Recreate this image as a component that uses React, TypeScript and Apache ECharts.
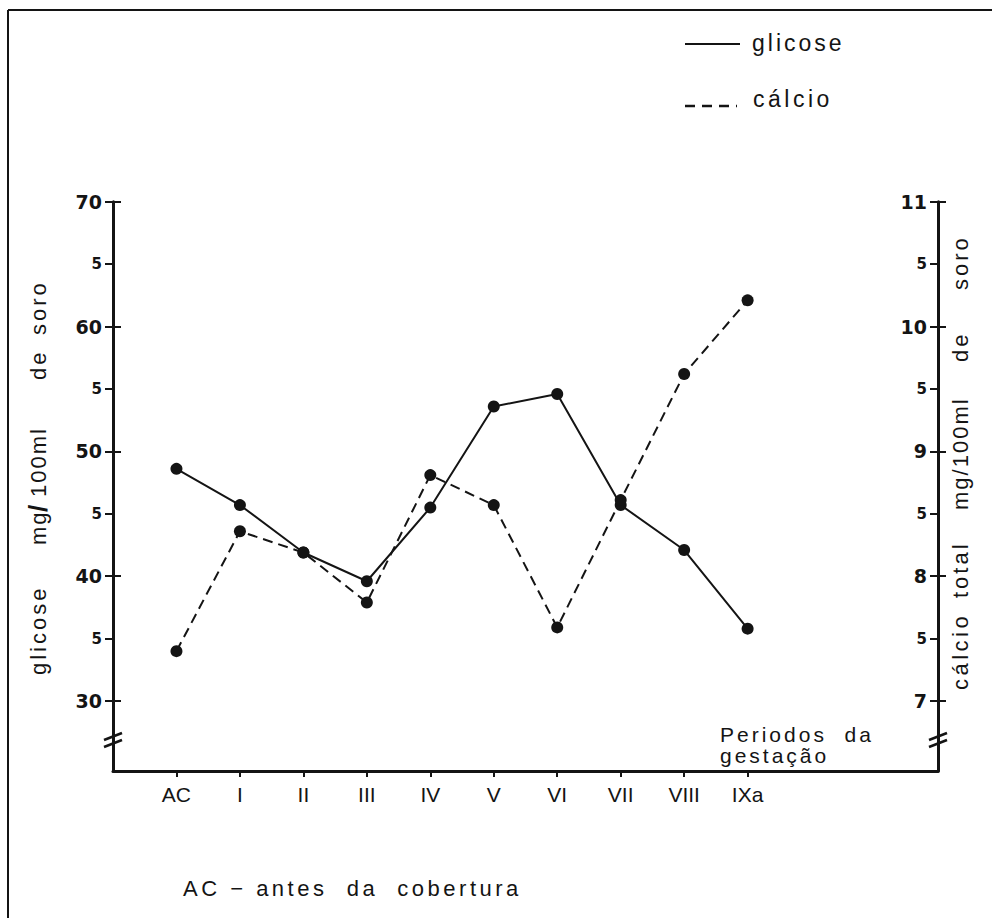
import React, { useEffect, useRef } from 'react';
import * as echarts from 'echarts';

// ---- data ----
const periods = ['AC', 'I', 'II', 'III', 'IV', 'V', 'VI', 'VII', 'VIII', 'IXa'];
const glicose = [48.6, 45.7, 41.9, 39.6, 45.5, 53.6, 54.6, 45.7, 42.1, 35.8];
const calcio = [7.4, 8.36, 8.19, 7.79, 8.81, 8.57, 7.59, 8.61, 9.62, 10.21];
const periodPositions = [0, 1, 2, 3, 4, 5, 6, 7, 8, 9];
const glicoseTicks = [30, 35, 40, 45, 50, 55, 60, 65, 70];
const glicoseMajor = [30, 40, 50, 60, 70];
const calcioTicks = [7, 7.5, 8, 8.5, 9, 9.5, 10, 10.5, 11];
const calcioMajor = [7, 8, 9, 10, 11];

const ink = '#141414';
const FONT = '"Liberation Sans", Arial, sans-serif';
const NARROW = '"Liberation Sans Narrow", "Liberation Sans", Arial, sans-serif';
const NUM = '"DejaVu Sans", "Liberation Sans", sans-serif';

const txt = (x: number, y: number, text: string, extra: any = {}) => ({
  type: 'text',
  x,
  y,
  style: {
    text,
    fill: ink,
    fontFamily: FONT,
    fontSize: 22,
    align: 'left',
    verticalAlign: 'middle',
    ...extra,
  },
});

const breakMark = (x: number, y: number) => [
  { type: 'line', shape: { x1: x - 9, y1: y + 4, x2: x + 9, y2: y - 3 }, style: { stroke: ink, lineWidth: 2.5 } },
  { type: 'line', shape: { x1: x - 9, y1: y + 11, x2: x + 9, y2: y + 4 }, style: { stroke: ink, lineWidth: 2.5 } },
];

const spacing: Record<string, number> = {
  glicose: 3,
  'cálcio': 3.5,
  'Periodos\u00a0\u00a0da': 3,
  'gestação': 3,
  'AC\u00a0\u2212\u00a0antes\u00a0\u00a0da\u00a0\u00a0cobertura': 3.5,
  mg: 2,
  '100ml': 2,
  'mg/100ml': 2,
  de: 3,
  soro: 3,
  total: 3,
};

export default function App() {
  const ref = useRef<HTMLDivElement>(null);

  useEffect(() => {
    const el = ref.current!;
    const chart = echarts.init(el, null, { renderer: 'svg' });

    const numRich = {
      big: { fontSize: 19, fontWeight: 'bold', fontFamily: NUM, color: ink },
      small: { fontSize: 15, fontWeight: 'bold', fontFamily: NUM, color: ink },
    };

    const option: any = {
      animation: false,
      backgroundColor: '#ffffff',
      grid: { left: 113, right: 54, top: 201.7, bottom: 147, containLabel: false },
      xAxis: {
        type: 'value',
        min: -1,
        max: 12,
        axisLine: { show: true, onZero: false, lineStyle: { color: ink, width: 3 } },
        axisTick: { show: true, customValues: periodPositions, length: 6, lineStyle: { color: ink, width: 2 } },
        axisLabel: {
          customValues: periodPositions,
          formatter: (v: number) => periods[v] ?? '',
          color: ink,
          fontFamily: NARROW,
          fontSize: 21,
          margin: 13,
        },
        splitLine: { show: false },
      },
      yAxis: [
        {
          type: 'value',
          min: 24.4,
          max: 70,
          position: 'left',
          axisLine: { show: true, onZero: false, lineStyle: { color: ink, width: 3 } },
          axisTick: { show: true, customValues: glicoseTicks, length: 8, lineStyle: { color: ink, width: 2 } },
          axisLabel: {
            customValues: glicoseTicks,
            margin: 11,
            formatter: (v: number) => (v % 10 === 0 ? `{big|${v}}` : '{small|5}'),
            rich: numRich,
          },
          splitLine: { show: false },
        },
        {
          type: 'value',
          min: 6.44,
          max: 11,
          position: 'right',
          axisLine: { show: true, onZero: false, lineStyle: { color: ink, width: 3 } },
          axisTick: { show: true, inside: true, customValues: calcioTicks, length: 8, lineStyle: { color: ink, width: 2 } },
          axisLabel: {
            inside: true,
            customValues: calcioTicks,
            margin: 11,
            formatter: (v: number) => (Number.isInteger(v) ? `{big|${v}}` : '{small|5}'),
            rich: numRich,
          },
          splitLine: { show: false },
        },
        {
          type: 'value',
          min: 24.4,
          max: 70,
          position: 'left',
          axisLine: { show: false, onZero: false },
          axisTick: { show: true, inside: true, customValues: glicoseMajor, length: 8, lineStyle: { color: ink, width: 2 } },
          axisLabel: { show: false },
          splitLine: { show: false },
        },
        {
          type: 'value',
          min: 6.44,
          max: 11,
          position: 'right',
          axisLine: { show: false, onZero: false },
          axisTick: { show: true, customValues: calcioMajor, length: 8, lineStyle: { color: ink, width: 2 } },
          axisLabel: { show: false },
          splitLine: { show: false },
        },
      ],
      series: [
        {
          name: 'glicose',
          type: 'line',
          yAxisIndex: 0,
          data: glicose.map((v, i) => [periodPositions[i], v]),
          symbol: 'circle',
          symbolSize: 12,
          lineStyle: { color: ink, width: 2 },
          itemStyle: { color: ink },
          z: 3,
        },
        {
          name: 'cálcio',
          type: 'line',
          yAxisIndex: 1,
          data: calcio.map((v, i) => [periodPositions[i], v]),
          symbol: 'circle',
          symbolSize: 12,
          lineStyle: { color: ink, width: 2, type: [10, 6] },
          itemStyle: { color: ink },
          z: 3,
        },
      ],
      graphic: [
        { type: 'line', shape: { x1: 8, y1: 10, x2: 992, y2: 10 }, style: { stroke: ink, lineWidth: 2 } },
        { type: 'line', shape: { x1: 8, y1: 10, x2: 8, y2: 918 }, style: { stroke: ink, lineWidth: 2 } },
        // legend
        { type: 'line', shape: { x1: 685, y1: 44, x2: 740, y2: 44 }, style: { stroke: ink, lineWidth: 2 } },
        txt(752, 43, 'glicose', { fontSize: 23 }),
        { type: 'line', shape: { x1: 685, y1: 106, x2: 737, y2: 106 }, style: { stroke: ink, lineWidth: 2.5, lineDash: [10, 7] } },
        txt(753, 99, 'cálcio', { fontSize: 23 }),
        // axis breaks
        ...breakMark(113, 736),
        ...breakMark(938, 736),
        // annotations
        txt(720, 734, 'Periodos\u00a0\u00a0da', { fontSize: 21 }),
        txt(720, 755, 'gestação', { fontSize: 21 }),
        txt(183, 888, 'AC\u00a0\u2212\u00a0antes\u00a0\u00a0da\u00a0\u00a0cobertura'),
        // left axis title
        {
          type: 'group',
          x: 38,
          y: 675,
          rotation: Math.PI / 2,
          children: [
            txt(0, 0, 'glicose'),
            txt(130, 0, 'mg'),
            txt(163, 0, '/', { fontWeight: 'bold', fontSize: 26 }),
            txt(178, 0, '100ml'),
            txt(295, 0, 'de'),
            txt(340, 0, 'soro'),
          ],
        },
        // right axis title
        {
          type: 'group',
          x: 960,
          y: 690,
          rotation: Math.PI / 2,
          children: [
            txt(0, 0, 'cálcio'),
            txt(92, 0, 'total'),
            txt(180, 0, 'mg/100ml'),
            txt(328, 0, 'de'),
            txt(400, 0, 'soro'),
          ],
        },
      ],
    };

    chart.setOption(option);

    const applySpacing = () => {
      el.querySelectorAll('text').forEach((t) => {
        const s = spacing[t.textContent || ''];
        if (s !== undefined) t.setAttribute('letter-spacing', String(s));
      });
    };
    applySpacing();
    chart.on('finished', applySpacing);

    return () => chart.dispose();
  }, []);

  return (
    <div
      ref={ref}
      style={{ position: 'fixed', left: 0, top: 0, width: 992, height: 918, background: '#fff' }}
    />
  );
}
